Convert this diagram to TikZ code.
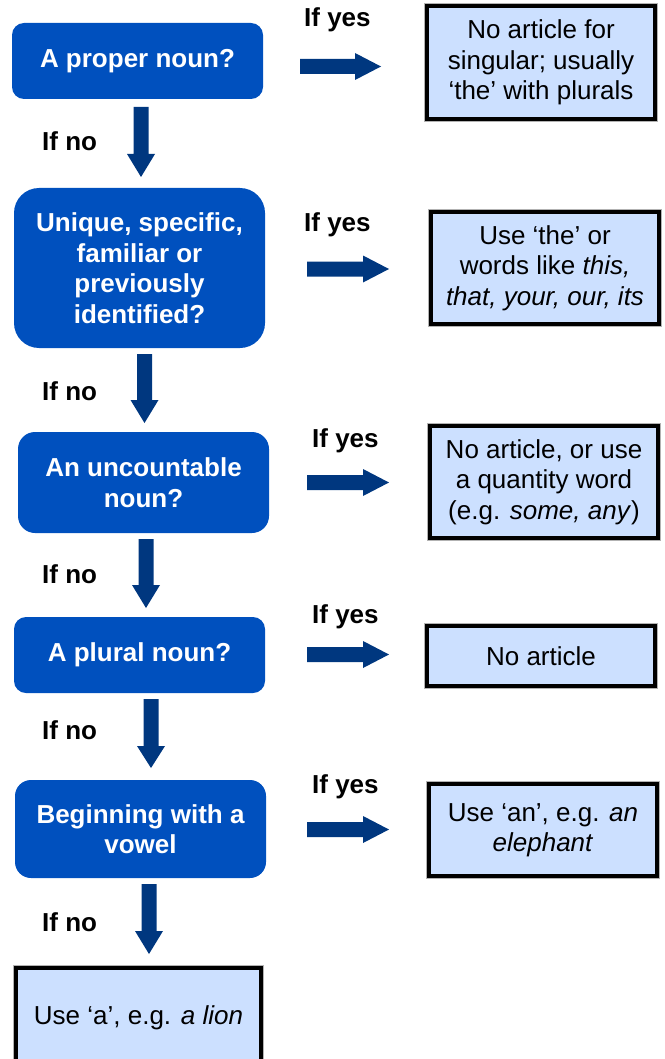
\documentclass[tikz,border=0pt]{standalone}
\usepackage{fontspec}
\setmainfont{Liberation Sans}
\definecolor{qblue}{HTML}{0050BE}
\definecolor{arrblue}{HTML}{00377F}
\definecolor{ansfill}{HTML}{CCE0FF}
\newcommand\myDownArr[4]{\fill[arrblue] (#1-7.5,#2) -- (#1+7.5,#2) -- (#1+7.5,#3) -- (#1+14,#3) -- (#1,#4) -- (#1-14,#3) -- (#1-7.5,#3) -- cycle;}
\newcommand\myRightArr[4]{\fill[arrblue] (#2,#1-7.5) -- (#2,#1+7.5) -- (#3,#1+7.5) -- (#3,#1+13.5) -- (#4,#1) -- (#3,#1-13.5) -- (#3,#1-7.5) -- cycle;}
\begin{document}
\begin{tikzpicture}[x=1pt,y=-1pt,
  question/.style={fill=qblue, text=white, font=\bfseries\fontsize{26}{30.5}\selectfont,
    align=center, inner sep=0pt, minimum width=251pt},
  answer/.style={fill=ansfill, draw=black, line width=4pt,
    preaction={draw=gray!60, line width=6pt},
    font=\fontsize{26}{30.5}\selectfont, align=center, inner sep=0pt},
  lbl/.style={font=\bfseries\fontsize{26}{30.5}\selectfont, anchor=base west, inner sep=0pt}]
\useasboundingbox (0,0) rectangle (664,1059);
\clip (0,0) rectangle (664,1059);

% question boxes
\node[question, rounded corners=12pt, minimum height=76pt] (q1) at (137.5,61) {A proper noun?};
\node[question, rounded corners=25pt, minimum height=160pt] (q2) at (139.5,268) {Unique, specific,\\familiar or\\previously\\identified?};
\node[question, rounded corners=17pt, minimum height=101pt] (q3) at (143.5,482.5) {An uncountable\\noun?};
\node[question, rounded corners=12pt, minimum height=76pt] (q4) at (139.5,655) {A plural noun?};
\node[question, rounded corners=16pt, minimum height=98pt] (q5) at (140.5,829) {Beginning with a\\vowel};

% answer boxes
\node[answer, minimum width=228pt, minimum height=113pt] (a1) at (541,62.5) {No article for\\singular; usually\\‘the’ with plurals};
\node[answer, minimum width=228pt, minimum height=112pt] (a2) at (545,268) {Use ‘the’ or\\words like \textit{this,}\\\textit{that, your, our, its}};
\node[answer, minimum width=228pt, minimum height=112pt] (a3) at (544,482) {No article, or use\\a quantity word\\(e.g. \textit{some, any})};
\node[answer, minimum width=228pt, minimum height=60pt] (a4) at (541,656) {No article};
\node[answer, minimum width=228pt, minimum height=92pt] (a5) at (543,830) {Use ‘an’, e.g. \textit{an}\\\textit{elephant}};
\node[answer, minimum width=245pt, minimum height=99pt] (a6) at (138.5,1017.5) {Use ‘a’, e.g. \textit{a lion}};

% down arrows
\myDownArr{141}{107}{154}{177}
\myDownArr{144.5}{354}{400}{423}
\myDownArr{146}{539}{585}{608}
\myDownArr{151}{699}{746}{768}
\myDownArr{149}{884}{931}{954}

% right arrows
\myRightArr{66.5}{300}{355}{381}
\myRightArr{269}{307}{363}{389}
\myRightArr{482.5}{307}{363}{389}
\myRightArr{654.5}{307}{363}{389}
\myRightArr{829.5}{307}{363}{389}

% labels
\node[lbl] (n1) at (42,151) {If no};
\node[lbl] (n2) at (42,400) {If no};
\node[lbl] (n3) at (42,583) {If no};
\node[lbl] (n4) at (42,739) {If no};
\node[lbl] (n5) at (42,931) {If no};
\node[lbl] (y1) at (304,27) {If yes};
\node[lbl] (y2) at (304,232) {If yes};
\node[lbl] (y3) at (312,447) {If yes};
\node[lbl] (y4) at (312,623) {If yes};
\node[lbl] (y5) at (312,793) {If yes};
\end{tikzpicture}
\end{document}
